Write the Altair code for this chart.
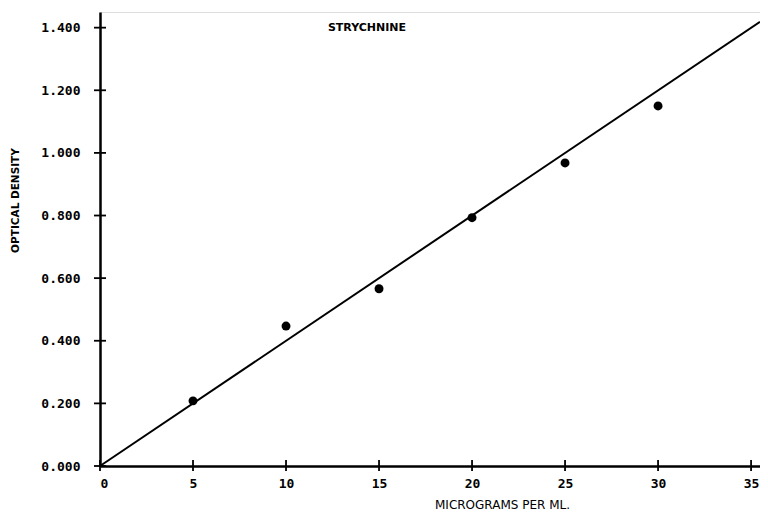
import altair as alt
import pandas as pd

# data
conc = [5, 10, 15, 20, 25, 30]
density = [0.208, 0.447, 0.566, 0.793, 0.968, 1.150]
line_x = [0, 35.48]
line_y = [0.0, 1.419]
x_ticks = [0, 5, 10, 15, 20, 25, 30, 35]
y_ticks = [0.0, 0.2, 0.4, 0.6, 0.8, 1.0, 1.2, 1.4]

W, H = 660, 454
FONT = "DejaVu Sans"

pts = pd.DataFrame({"x": conc, "y": density})
ln = pd.DataFrame({"x": line_x, "y": line_y})
xt = pd.DataFrame({"x": x_ticks})
yt = pd.DataFrame({"y": y_ticks})

xscale = alt.Scale(domain=[0, 35.48], nice=False, zero=False)
yscale = alt.Scale(domain=[0, 1.45], nice=False, zero=False)

xaxis = alt.Axis(values=x_ticks, grid=False, tickSize=0, labelPadding=11,
                 labelFont="DejaVu Sans Mono", labelFontSize=13, labelFontWeight="bold",
                 labelColor="black", domainColor="black", domainWidth=2.5,
                 title="MICROGRAMS PER ML.", titleFont=FONT, titleFontSize=12,
                 titleFontWeight="normal", titleColor="black", titleX=402, titleY=38,
                 titleAlign="center", titleBaseline="middle")
yaxis = alt.Axis(values=y_ticks, format=".3f", grid=False, tickSize=0, labelPadding=20,
                 labelFont="DejaVu Sans Mono", labelFontSize=13, labelFontWeight="bold",
                 labelColor="black", domainColor="black", domainWidth=2.5,
                 title="OPTICAL DENSITY", titleFont=FONT, titleFontSize=10.5,
                 titleFontWeight="bold", titleColor="black", titleX=-85, titleY=188,
                 titleAlign="center", titleBaseline="middle", titleAngle=270)

base_line = alt.Chart(ln).mark_line(color="black", strokeWidth=2).encode(
    x=alt.X("x:Q", scale=xscale, axis=xaxis),
    y=alt.Y("y:Q", scale=yscale, axis=yaxis),
)

points = alt.Chart(pts).mark_circle(color="black", opacity=1, size=80).encode(
    x=alt.X("x:Q", scale=xscale),
    y=alt.Y("y:Q", scale=yscale),
)

yticks = alt.Chart(yt).mark_rule(color="black", strokeWidth=1.8).encode(
    x=alt.value(-6), x2=alt.value(6),
    y=alt.Y("y:Q", scale=yscale),
)
xticks = alt.Chart(xt).mark_rule(color="black", strokeWidth=1.8).encode(
    x=alt.X("x:Q", scale=xscale),
    y=alt.value(H - 6), y2=alt.value(H + 5),
)

title = alt.Chart(pd.DataFrame({"t": ["STRYCHNINE"]})).mark_text(
    font=FONT, fontSize=11, fontWeight="bold", color="black", align="center", baseline="middle"
).encode(x=alt.value(267), y=alt.value(16), text="t:N")

chart = alt.layer(base_line, points, yticks, xticks, title).properties(
    width=W, height=H,
    padding={"left": 92, "top": 4, "right": 0, "bottom": 50},
    autosize=alt.AutoSizeParams(type="none"),
).configure_view(stroke=None).configure(background="white")

chart.save("out.html", embed_options={"renderer": "svg", "actions": False})
